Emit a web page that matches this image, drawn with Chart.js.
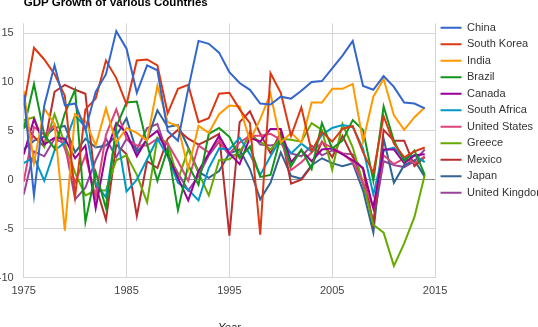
<!DOCTYPE html>
<html>
<head>
<meta charset="utf-8">
<script src="https://cdn.jsdelivr.net/npm/chart.js@4"></script>
<style>
  html, body { margin: 0; padding: 0; background: #fff; }
  #wrap { position: relative; width: 538px; height: 327px; overflow: hidden; }
</style>
</head>
<body>
<div id="wrap"><canvas id="gdpChart" width="538" height="327"></canvas></div>
<script>
// GDP growth (annual %), 1975-2014
const years = [1975, 1976, 1977, 1978, 1979, 1980, 1981, 1982, 1983, 1984,
  1985, 1986, 1987, 1988, 1989, 1990, 1991, 1992, 1993, 1994,
  1995, 1996, 1997, 1998, 1999, 2000, 2001, 2002, 2003, 2004,
  2005, 2006, 2007, 2008, 2009, 2010, 2011, 2012, 2013, 2014];

const china = [8.7, -1.6, 7.6, 11.7, 7.6, 7.8, 5.1, 9.0, 10.8, 15.2, 13.4, 8.9, 11.7, 11.2, 5.0, 4.0, 9.3, 14.2, 13.9, 13.0,
  11.0, 9.9, 9.2, 7.8, 7.7, 8.5, 8.3, 9.1, 10.0, 10.1, 11.4, 12.7, 14.2, 9.6, 9.2, 10.6, 9.5, 7.9, 7.8, 7.3];
const southKorea = [7.5, 13.5, 12.3, 10.8, 8.6, -1.7, 7.2, 8.3, 12.2, 10.4, 7.7, 12.2, 12.3, 11.7, 6.8, 9.3, 9.7, 5.9, 6.3, 8.8,
  8.9, 7.2, 5.8, -5.6, 10.9, 8.9, 4.5, 7.4, 2.9, 4.9, 3.9, 5.2, 5.5, 2.8, 0.7, 6.5, 3.7, 2.3, 2.9, 3.3];
const india = [9.1, 1.7, 7.3, 5.7, -5.2, 6.7, 6.0, 3.5, 7.3, 3.8, 5.3, 4.8, 4.0, 9.6, 5.9, 5.5, 1.1, 5.5, 4.8, 6.7,
  7.6, 7.5, 4.0, 6.2, 8.8, 3.8, 4.8, 3.8, 7.9, 7.9, 9.3, 9.3, 9.8, 3.9, 8.5, 10.3, 6.6, 5.1, 6.4, 7.4];
const brazil = [5.2, 9.8, 4.6, 3.2, 6.8, 9.2, -4.3, 0.8, -2.9, 5.4, 7.9, 8.0, 3.6, -0.1, 3.2, -3.1, 1.5, -0.5, 4.7, 5.3,
  4.4, 2.2, 3.4, 0.3, 0.5, 4.4, 1.4, 3.1, 1.1, 5.8, 3.2, 4.0, 6.1, 5.1, -0.1, 7.5, 4.0, 1.9, 3.0, 0.5];
const canada = [2.6, 6.2, 3.6, 4.3, 4.2, 2.2, 3.5, -2.9, 2.7, 5.8, 4.8, 2.4, 4.2, 5.0, 2.6, 0.2, -2.1, 0.9, 2.7, 4.5,
  2.7, 1.6, 4.3, 3.9, 5.2, 5.2, 1.8, 3.0, 1.9, 3.1, 3.2, 2.6, 2.0, 1.2, -2.9, 3.1, 3.1, 1.7, 2.5, 2.6];
const southAfrica = [1.7, 2.3, -0.1, 3.0, 3.8, 6.6, 5.4, -0.4, -1.8, 5.1, -1.2, 0.0, 2.1, 4.2, 2.4, -0.3, -1.0, -2.1, 1.2, 3.2,
  3.1, 4.3, 2.6, 0.5, 2.4, 4.2, 2.7, 3.7, 2.9, 4.6, 5.3, 5.6, 5.4, 3.2, -1.5, 3.0, 3.3, 2.2, 2.5, 1.8];
const unitedStates = [-0.2, 5.4, 4.6, 5.6, 3.2, -0.3, 2.5, -1.8, 4.6, 7.2, 4.2, 3.5, 3.5, 4.2, 3.7, 1.9, -0.1, 3.5, 2.8, 4.0,
  2.7, 3.8, 4.5, 4.5, 4.7, 4.1, 1.0, 1.8, 2.8, 3.8, 3.3, 2.7, 1.8, -0.3, -2.8, 2.5, 1.6, 2.2, 1.7, 2.4];
const greece = [6.1, 6.4, 3.4, 6.7, 3.7, 0.7, -1.6, -1.1, -1.1, 2.0, 2.5, 0.5, -2.3, 4.3, 3.8, 0.0, 3.1, 0.7, -1.6, 2.0,
  2.1, 2.9, 4.5, 3.9, 3.1, 4.2, 4.1, 3.9, 5.8, 5.1, 1.0, 5.7, 3.3, -0.3, -4.6, -5.4, -8.8, -6.5, -3.8, 0.5];
const mexico = [5.7, 4.4, 3.4, 9.0, 9.7, 9.2, 8.8, -0.6, -4.1, 3.6, 2.6, -3.7, 1.9, 1.2, 4.2, 5.1, 4.2, 3.6, 4.1, 4.7,
  -5.7, 5.9, 7.0, 4.7, 2.7, 4.9, -0.4, 0.0, 1.4, 3.9, 2.3, 4.5, 2.3, 1.1, -4.7, 5.1, 4.0, 4.0, 1.4, 2.3];
const japan = [3.1, 4.0, 4.4, 5.3, 5.5, 2.8, 4.2, 3.3, 3.5, 4.5, 6.3, 2.8, 4.1, 7.1, 5.4, 5.6, 3.3, 0.8, 0.2, 0.9,
  2.7, 3.1, 1.1, -2.0, -0.3, 2.8, 0.4, 0.1, 1.5, 2.2, 1.7, 1.4, 1.7, -1.1, -5.4, 4.2, -0.3, 1.5, 2.0, 0.3];
const unitedKingdom = [-1.5, 2.9, 2.4, 4.2, 3.7, -2.0, -0.8, 2.0, 4.2, 2.3, 4.2, 3.1, 5.3, 5.7, 2.6, 0.7, -1.1, 0.4, 2.5, 3.9,
  2.5, 2.5, 4.9, 3.6, 3.5, 3.7, 2.7, 2.4, 3.5, 2.5, 3.0, 2.7, 2.6, -0.5, -4.2, 1.9, 1.5, 1.3, 1.9, 3.1];

const countries = ['China', 'South Korea', 'India', 'Brazil', 'Canada', 'South Africa',
  'United States', 'Greece', 'Mexico', 'Japan', 'United Kingdom'];
const seriesValues = [china, southKorea, india, brazil, canada, southAfrica,
  unitedStates, greece, mexico, japan, unitedKingdom];
const colors = ['#3366cc', '#dc3912', '#ff9900', '#109618', '#990099', '#0099c6',
  '#dd4477', '#66aa00', '#b82e2e', '#316395', '#994499'];
const yTicks = [-10, -5, 0, 5, 10, 15];
const xTicks = [1975, 1985, 1995, 2005, 2015];

const chartTitle = 'GDP Growth of Various Countries';
const font = '"Liberation Sans", Arial, sans-serif';

// title sits flush with the plot's left edge, like the original
const titlePlugin = {
  id: 'leftTitle',
  afterDraw(chart) {
    const ctx = chart.ctx;
    ctx.save();
    ctx.font = 'bold 11.5px ' + font;
    ctx.fillStyle = '#000';
    ctx.textBaseline = 'alphabetic';
    ctx.textAlign = 'left';
    ctx.fillText(chartTitle, chart.chartArea.left, 6);
    ctx.restore();
  }
};

const datasets = countries.map((name, i) => ({
  label: name,
  data: seriesValues[i].map((v, j) => ({ x: years[j], y: v })),
  borderColor: colors[i],
  backgroundColor: colors[i],
  borderWidth: 2,
  pointRadius: 0,
  pointHoverRadius: 0,
  pointStyle: 'line',
  tension: 0,
  fill: false
}));

new Chart(document.getElementById('gdpChart'), {
  type: 'line',
  data: { datasets },
  options: {
    responsive: false,
    animation: false,
    layout: { padding: { top: 16.7, left: -12.2, right: -17.3, bottom: -8 } },
    plugins: {
      legend: {
        position: 'right',
        align: 'start',
        labels: {
          usePointStyle: true,
          pointStyleWidth: 21,
          padding: 5.5,
          color: '#333',
          font: { family: font, size: 11 }
        }
      },
      title: { display: false },
      tooltip: { enabled: false }
    },
    scales: {
      x: {
        type: 'linear',
        min: 1975,
        max: 2015,
        afterBuildTicks: (axis) => { axis.ticks = xTicks.map(v => ({ value: v })); },
        ticks: {
          padding: 7,
          color: '#444',
          font: { family: font, size: 11 },
          callback: (v) => String(v)
        },
        grid: { color: '#d6d6d6', lineWidth: 1, drawTicks: false },
        border: { display: false },
        title: {
          display: true,
          text: 'Year',
          color: '#222',
          font: { family: font, size: 11, style: 'italic' },
          padding: { top: 17, bottom: 0 }
        }
      },
      y: {
        min: -10,
        max: 16,
        afterBuildTicks: (axis) => { axis.ticks = yTicks.map(v => ({ value: v })); },
        afterFit: (axis) => { axis.paddingTop = 23.3; },
        ticks: {
          padding: 10,
          color: '#444',
          font: { family: font, size: 11 }
        },
        grid: {
          color: (c) => (c.tick && c.tick.value === 0 ? '#8a8a8a' : '#d6d6d6'),
          lineWidth: 1,
          drawTicks: false
        },
        border: { display: false }
      }
    }
  },
  plugins: [titlePlugin]
});
</script>
</body>
</html>
